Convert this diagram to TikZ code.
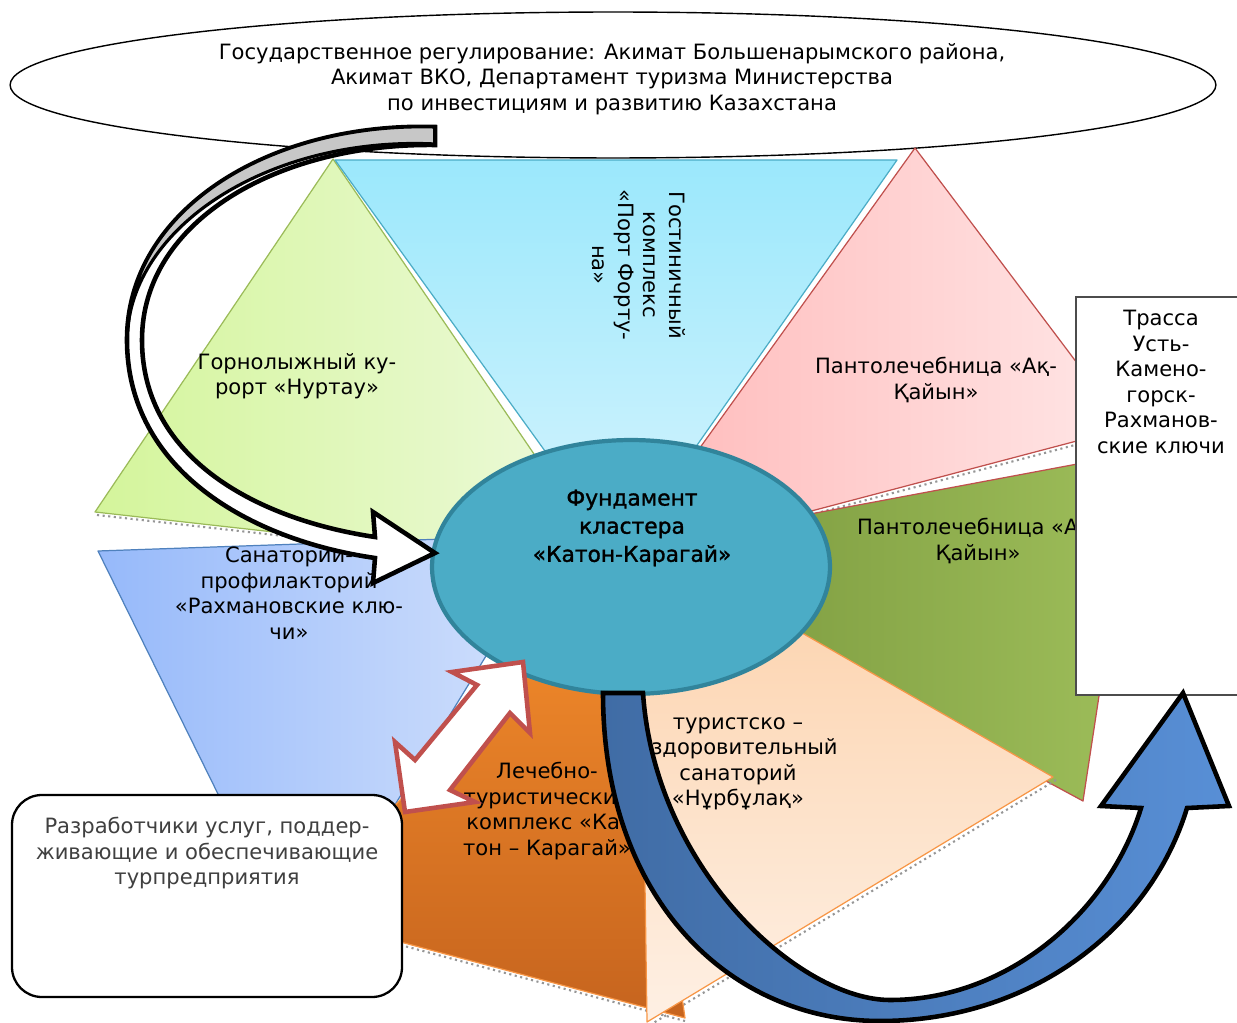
\documentclass[tikz,border=0pt]{standalone}
\usepackage{fontspec}
\setmainfont{DejaVu Sans}
\newfontfamily\corefont[FakeBold=1.4]{DejaVu Sans}
\usetikzlibrary{shapes.geometric}
\definecolor{grA}{RGB}{212,245,155}
\definecolor{grB}{RGB}{238,250,222}
\definecolor{grE}{RGB}{155,187,89}
\definecolor{cyA}{RGB}{155,232,252}
\definecolor{cyB}{RGB}{215,244,253}
\definecolor{cyE}{RGB}{75,172,198}
\definecolor{pkA}{RGB}{255,184,184}
\definecolor{pkB}{RGB}{255,230,230}
\definecolor{pkE}{RGB}{192,80,77}
\definecolor{olA}{RGB}{118,148,58}
\definecolor{olB}{RGB}{158,190,90}
\definecolor{peA}{RGB}{252,208,168}
\definecolor{peB}{RGB}{254,240,228}
\definecolor{peE}{RGB}{247,150,70}
\definecolor{orA}{RGB}{246,142,44}
\definecolor{orB}{RGB}{198,100,30}
\definecolor{pwA}{RGB}{150,185,250}
\definecolor{pwB}{RGB}{212,226,252}
\definecolor{pwE}{RGB}{79,129,189}
\definecolor{coreF}{RGB}{75,172,198}
\definecolor{coreE}{RGB}{49,132,155}
\definecolor{blA}{RGB}{64,108,165}
\definecolor{blB}{RGB}{88,143,214}
\definecolor{txtgray}{RGB}{64,64,64}
\definecolor{arrR}{RGB}{192,80,77}
\definecolor{shd}{RGB}{150,150,150}
\begin{document}
\begin{tikzpicture}[x=0.02cm,y=-0.02cm,
  lbl/.style={align=center, font=\fontsize{12}{14.5}\selectfont, inner sep=0pt},
  segline/.style={line width=0.7pt, line join=round},
  shadowline/.style={draw=shd, line width=1.2pt, dotted},
  blockarrow/.style={line width=2.6pt, line join=miter, miter limit=6}]
\useasboundingbox (0,0) rectangle (1237,1023);

% top ellipse
\node[ellipse, draw=black, line width=0.8pt, fill=white, inner sep=0pt,
      minimum width=24.12cm, minimum height=2.92cm] (gov) at (613,85) {};

% segments
\draw[shadowline] (97,515) -- (613,573);
\draw[segline, draw=grE, left color=grA, right color=grB] (333,159) -- (95,512) -- (613,570) -- cycle;
\draw[segline, draw=cyE, top color=cyA, bottom color=cyB] (335,160) -- (897,160) -- (620,555) -- cycle;
\draw[shadowline] (620,565) -- (1128,431);
\draw[segline, draw=pkE, shading angle=60, left color=pkA, right color=pkB] (915,148) -- (1126,428) -- (618,562) -- cycle;
\draw[segline, draw=pkE, left color=olA, right color=olB] (618,550) -- (1136,453) -- (1083,801) -- cycle;
\draw[shadowline] (1056,780) -- (650,1025);
\draw[segline, draw=pwE, left color=pwA, right color=pwB] (98,551) -- (300,960) -- (560,535) -- cycle;
\draw[shadowline] (292,916) -- (685,1021);
\draw[segline, draw=peE, top color=orA, bottom color=orB] (620,570) -- (292,913) -- (685,1018) -- cycle;
\draw[segline, draw=peE, shading angle=-30, top color=peA, bottom color=peB] (640,540) -- (1053,777) -- (647,1022) -- cycle;

% core
\node[ellipse, draw=coreE, line width=2.4pt, fill=coreF, inner sep=0pt,
      minimum width=7.96cm, minimum height=5.08cm] (core) at (631,567) {};

% labels
\node[lbl] (govtext) at (612,79) {Государственное регулирование: Акимат Большенарымского района,\\Акимат ВКО, Департамент туризма Министерства\\по инвестициям и развитию Казахстана};
\node[lbl] (ski) at (297,376) {Горнолыжный ку-\\рорт «Нуртау»};
\node[lbl, rotate=-90] (hotel) at (639,265) {Гостиничный\\комплекс\\«Порт Форту-\\на»};
\node[lbl] (pant1) at (936,380) {Пантолечебница «Ақ-\\Қайын»};
\node[lbl] (pant2) at (978,541) {Пантолечебница «Ақ-\\Қайын»};
\node[lbl] (sanat) at (289,593) {Санатории-\\профилакторий\\«Рахмановские клю-\\чи»};
\node[lbl] (lech) at (547,811) {Лечебно-\\туристический\\комплекс «Ка-\\тон – Карагай»};
\node[lbl] (nur) at (738,764) {туристско –\\оздоровительный\\санаторий\\«Нұрбұлақ»};
\node[lbl, font=\corefont\fontsize{12.4}{16}\selectfont] (coretext) at (632,528) {Фундамент\\кластера\\«Катон-Карагай»};

% route box
\draw[draw=black!70, line width=0.6pt, fill=white] (1076,297) rectangle (1240,695);
\node[lbl] (route) at (1161,382) {Трасса\\Усть-\\Камено-\\горск-\\Рахманов-\\ские ключи};

% developers box
\draw[draw=black, line width=1.3pt, fill=white, rounded corners=17pt] (12,795) rectangle (402,997);
\node[lbl, text=txtgray] (dev) at (207,853) {Разработчики услуг, поддер-\\живающие и обеспечивающие\\турпредприятия};

% big curved arrow from government to core
\draw[blockarrow, fill=white]
 (435,127) .. controls (270,122) and (127,210) .. (127,340)
 .. controls (127,470) and (250,540) .. (375,558)
 -- (373,583) -- (435,553) -- (373,512) -- (375,537)
 .. controls (260,520) and (142,460) .. (142,340)
 .. controls (142,220) and (280,143) .. (435,145) -- cycle;
\draw[line width=1.8pt, fill=black!22, line join=round]
 (435,127) .. controls (270,122) and (127,210) .. (127,340)
 .. controls (129,225) and (272,136) .. (435,144) -- cycle;
\draw[line width=2.6pt] (435,127) -- (435,145);

% red double arrow
\draw[blockarrow, draw=arrR, fill=white]
 (523,662) -- (530,733) -- (510,713) -- (450,790) -- (475,802) -- (405,812)
 -- (395,742) -- (415,760) -- (477,685) -- (452,672) -- cycle;

% blue curved arrow core -> route
\draw[blockarrow, left color=blA, right color=blB]
 (603,693) .. controls (603,900) and (730,1021) .. (880,1021)
 .. controls (1030,1021) and (1150,930) .. (1187,808)
 -- (1229,806) -- (1183,693) -- (1101,806) -- (1141,808)
 .. controls (1110,910) and (1010,1000) .. (890,1000)
 .. controls (800,1000) and (655,870) .. (643,693) -- cycle;
\end{tikzpicture}
\end{document}
